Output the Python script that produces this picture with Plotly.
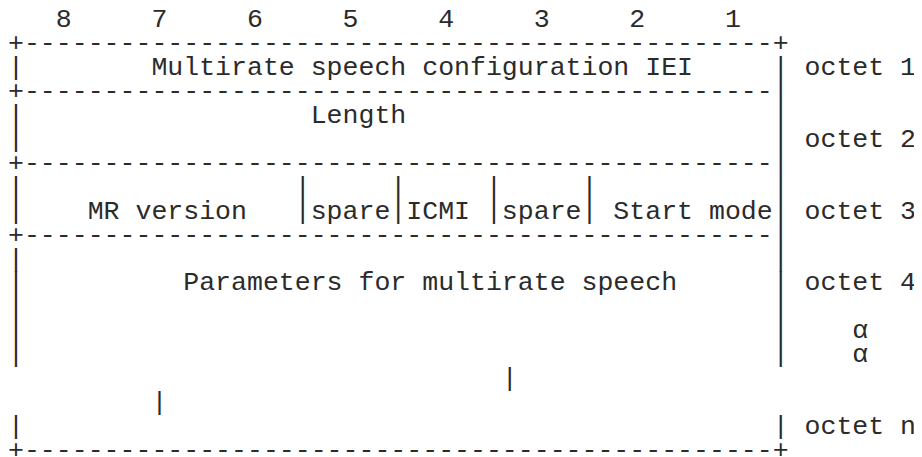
import plotly.graph_objects as go

# ---- content of the information element diagram ----
bit_labels = ["8", "7", "6", "5", "4", "3", "2", "1"]
iei_field = "Multirate speech configuration IEI"
length_field = "Length"
octet3_fields = ["MR version", "spare", "ICMI", "spare", "Start mode"]
param_field = "Parameters for multirate speech"
octet_labels = ["octet 1", "octet 2", "octet 3", "octet 4", "octet n"]
continuation_marks = ["α", "α"]

# ---- character-grid layout (columns of a monospaced font, rows of text lines) ----
N_ROWS = 19
N_COLS = 58
BOX_W = 49  # characters from left corner to right corner
grid = [[" "] * N_COLS for _ in range(N_ROWS)]


def put(r, c, s):
    for k, ch in enumerate(s):
        grid[r][c + k] = ch


# bit numbers header
for k, lab in enumerate(bit_labels):
    put(0, 3 + 6 * k, lab)

# horizontal borders
for r, right in [(1, "+"), (3, "|"), (6, "|"), (9, "|"), (18, "+")]:
    put(r, 0, "+" + "-" * (BOX_W - 2) + right)

# side borders
for r in [2, 4, 5, 7, 8, 10, 11, 12, 13, 14, 17]:
    put(r, 0, "|")
    put(r, BOX_W - 1, "|")

# octet 1 / 2
put(2, 9, iei_field)
put(4, 19, length_field)

# octet 3 sub-fields
sep_cols = [18, 24, 30, 36]
for r in (7, 8):
    for c in sep_cols:
        put(r, c, "|")
field_cols = [5, 19, 25, 31, 38]
for c, name in zip(field_cols, octet3_fields):
    put(8, c, name)

# octet 4
put(11, 11, param_field)

# octet labels on the right
for r, lab in zip([2, 5, 8, 11, 17], octet_labels):
    put(r, BOX_W + 1, lab)
for r, lab in zip([13, 14], continuation_marks):
    put(r, BOX_W + 4, lab)

# stray break marks
put(15, 31, "|")
put(16, 9, "|")

# ---- figure ----
W, H = 922, 457
FONT_PX = 26.55
CW = 16.0      # character pitch in px
LH = 23.95     # line pitch in px
X0 = 0.0       # where column 0 is anchored, px
Y0 = 12.0      # centre of row 0 in px

fig = go.Figure()
fig.add_trace(go.Scatter(x=[0], y=[0], mode="markers",
                         marker=dict(opacity=0), hoverinfo="skip", showlegend=False))

for r in range(N_ROWS):
    line = "".join(grid[r]).rstrip()
    if not line:
        continue
    fig.add_annotation(
        x=0, y=r, xref="x", yref="y",
        text=line.replace(" ", "\u00a0"),
        showarrow=False, xanchor="left", yanchor="middle",
        borderpad=0, borderwidth=0,
        font=dict(family="Liberation Mono, Courier New, monospace",
                  size=FONT_PX, color="#2b2b2b"),
    )

fig.update_xaxes(range=[-X0 / CW, (W - X0) / CW], visible=False, fixedrange=True)
fig.update_yaxes(range=[(H - Y0) / LH, -Y0 / LH], visible=False, fixedrange=True)
fig.update_layout(
    width=W, height=H,
    margin=dict(l=0, r=0, t=0, b=0),
    paper_bgcolor="white", plot_bgcolor="white",
    showlegend=False,
)

fig.write_html("out.html")
